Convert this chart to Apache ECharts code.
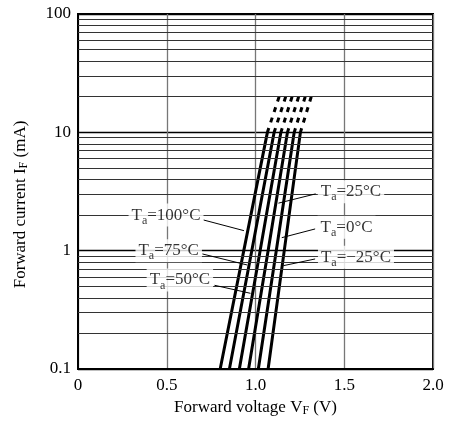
<!DOCTYPE html>
<html>
<head>
<meta charset="utf-8">
<script src="https://cdn.jsdelivr.net/npm/echarts@6/dist/echarts.min.js"></script>
<style>html,body{margin:0;padding:0;background:#fff}#c{width:450px;height:424px}</style>
</head>
<body>
<div id="c"></div>
<script>
// ---- data ----
const currents = [0.1, 1, 10, 20];          // mA (solid up to 10, dashed 10 -> 20)
const vfT100 = [0.801, 0.934, 1.067, 1.133];
const vfT75  = [0.853, 0.979, 1.105, 1.170];
const vfT50  = [0.909, 1.026, 1.143, 1.206];
const vfT25  = [0.961, 1.071, 1.180, 1.243];
const vfT0   = [1.016, 1.117, 1.218, 1.280];
const vfTm25 = [1.071, 1.162, 1.253, 1.314];
const curveNames = ['100', '75', '50', '25', '0', '−25'];

const xTickLabels = ['0', '0.5', '1.0', '1.5', '2.0'];
const yTickLabels = ['0.1', '1', '10', '100'];
const minorGrid = [0.2,0.3,0.4,0.5,0.6,0.7,0.8,0.9,2,3,4,5,6,7,8,9,20,30,40,50,60,70,80,90];

// annotation label anchors [V, mA] and arrow lines [fromV, fromI, toV, toI]
const labelTemps = ['25', '0', '−25', '100', '75', '50'];
const labelV = [1.538, 1.513, 1.566, 0.496, 0.511, 0.574];
const labelI = [3.15, 1.577, 0.88, 2.0, 1.0, 0.565];
const arrowFromV = [1.339, 1.336, 1.336, 0.707, 0.701, 0.769];
const arrowFromI = [3.02, 1.526, 0.851, 1.817, 0.938, 0.51];
const arrowToV = [1.129, 1.148, 1.157, 0.935, 0.953, 0.972];
const arrowToI = [2.52, 1.288, 0.747, 1.476, 0.757, 0.436];

const FONT = 'Liberation Serif';
const vfAll = [vfT100, vfT75, vfT50, vfT25, vfT0, vfTm25];

const series = [];
// minor gridlines
series.push({
  type: 'line', data: [], z: 1, silent: true,
  markLine: {
    silent: true, symbol: ['none', 'none'], label: {show: false},
    lineStyle: {color: '#333', width: 1, type: 'solid'},
    data: minorGrid.map(v => ({yAxis: v}))
  }
});
vfAll.forEach((vf, k) => {
  series.push({
    name: curveNames[k], type: 'line', z: 3, symbol: 'none', silent: true,
    lineStyle: {color: '#000', width: 3},
    data: [0, 1, 2].map(i => [vf[i], currents[i]])
  });
  series.push({
    type: 'line', z: 3, symbol: 'none', silent: true,
    lineStyle: {color: '#000', width: 3, type: [5, 6]},
    data: [3, 2].map(i => [vf[i], currents[i]])
  });
});
// arrows
series.push({
  type: 'line', data: [], z: 4, silent: true,
  markLine: {
    silent: true, symbol: ['none', 'arrow'], symbolSize: [0, 7], label: {show: false},
    lineStyle: {color: '#000', width: 1, type: 'solid'},
    data: labelTemps.map((t, i) => [
      {coord: [arrowFromV[i], arrowFromI[i]]},
      {coord: [arrowToV[i], arrowToI[i]]}
    ])
  }
});
// labels
series.push({
  type: 'scatter', z: 5, silent: true, symbolSize: 1,
  itemStyle: {color: 'rgba(0,0,0,0)'},
  data: labelTemps.map((t, i) => ({value: [labelV[i], labelI[i]], name: t})),
  label: {
    show: true, position: 'inside',
    formatter: p => '{t|T}{s|a}{t|=' + p.name + '°C}',
    backgroundColor: '#fff', padding: [0, 3, 0, 3],
    rich: {
      t: {fontFamily: FONT, fontSize: 17, color: '#000'},
      s: {fontFamily: FONT, fontSize: 12, color: '#000', padding: [11, 0, 0, 0]}
    }
  }
});

const chart = echarts.init(document.getElementById('c'), null, {renderer: 'canvas'});
chart.setOption({
  animation: false,
  backgroundColor: '#fff',
  grid: {left: 78, right: 17, top: 14, bottom: 55, show: true, borderColor: '#000', borderWidth: 2, backgroundColor: 'transparent'},
  xAxis: {
    type: 'value', min: 0, max: 2, interval: 0.5,
    name: 'Forward voltage V{s|F} (V)', nameLocation: 'middle', nameGap: 30,
    nameTextStyle: {fontFamily: FONT, fontSize: 17, color: '#000',
      rich: {s: {fontFamily: FONT, fontSize: 12, color: '#000', padding: [6, 0, 0, 0]}}},
    axisLine: {lineStyle: {color: '#000', width: 2}},
    axisTick: {show: false},
    axisLabel: {fontFamily: FONT, fontSize: 17, color: '#000', margin: 8,
      formatter: v => xTickLabels[Math.round(v / 0.5)]},
    splitLine: {show: true, lineStyle: {color: '#777', width: 1.3}}
  },
  yAxis: {
    type: 'log', logBase: 10, min: 0.1, max: 100,
    name: 'Forward current I{s|F} (mA)', nameLocation: 'middle', nameGap: 48,
    nameTextStyle: {fontFamily: FONT, fontSize: 17, color: '#000', padding: [0, 26, 0, 0],
      rich: {s: {fontFamily: FONT, fontSize: 12, color: '#000', padding: [6, 0, 0, 0]}}},
    axisLine: {show: true, lineStyle: {color: '#000', width: 2}},
    axisTick: {show: false},
    axisLabel: {fontFamily: FONT, fontSize: 17, color: '#000', margin: 7,
      formatter: v => yTickLabels[Math.round(Math.log10(v)) + 1]},
    splitLine: {show: true, lineStyle: {color: '#000', width: 1.3}}
  },
  series: series
});
</script>
</body>
</html>
